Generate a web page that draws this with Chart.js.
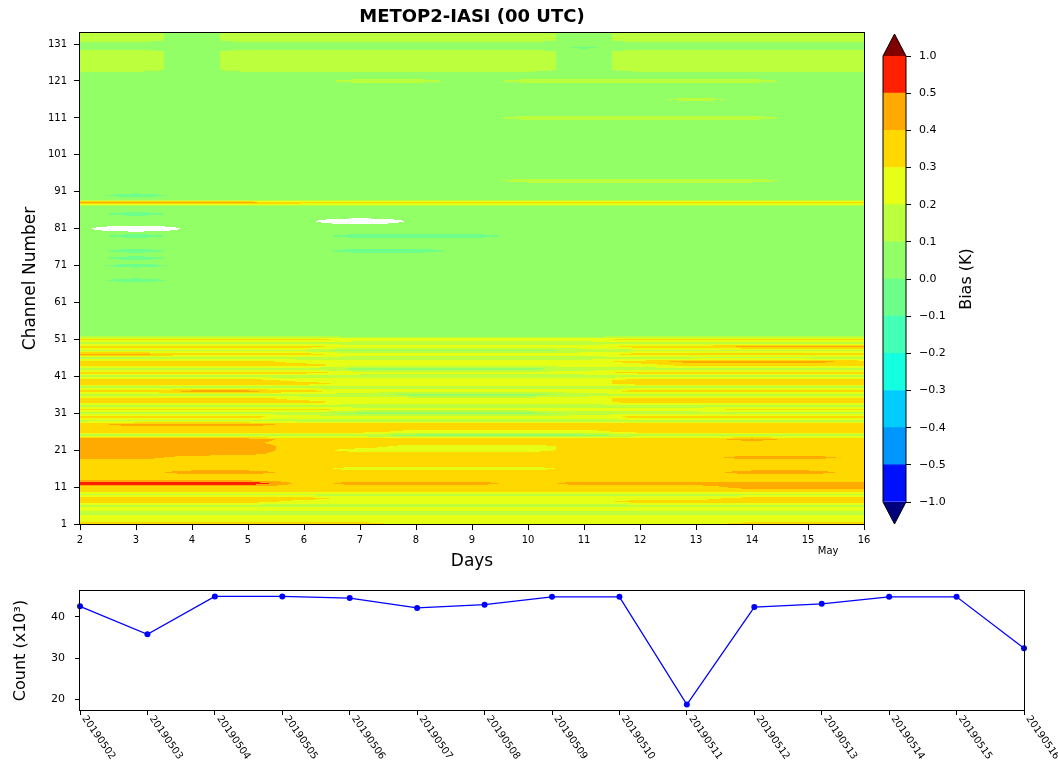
<!DOCTYPE html>
<html>
<head>
<meta charset="utf-8">
<title>METOP2-IASI (00 UTC)</title>
<script src="https://cdn.jsdelivr.net/npm/chart.js@4.4.1/dist/chart.umd.min.js"></script>
<style>
  html, body { margin: 0; padding: 0; background: #fff; }
  #page { position: relative; width: 1058px; height: 765px; overflow: hidden; }
  canvas { position: absolute; }
  #heat { left: 0; top: 0; }
  #cbar { left: 860px; top: 0; }
  #count { left: 0; top: 580px; }
</style>
</head>
<body>
<div id="page">
  <canvas id="heat" width="876" height="580"></canvas>
  <canvas id="cbar" width="198" height="560"></canvas>
  <canvas id="count" width="1058" height="185"></canvas>
</div>
<script>
// days of May on the x axis of the bias plot
var biasDays = [2, 3, 4, 5, 6, 7, 8, 9, 10, 11, 12, 13, 14, 15, 16];
var channelMin = 1;
var channelTicks = [1, 11, 21, 31, 41, 51, 61, 71, 81, 91, 101, 111, 121, 131];

// contour levels of the colour bar (K)
var biasLevels = [-1.0, -0.5, -0.4, -0.3, -0.2, -0.1, 0.0, 0.1, 0.2, 0.3, 0.4, 0.5, 1.0];
var levelColors = ['#0010ff', '#0096ff', '#00ccff', '#14ffe0', '#44ffb6', '#6cff8a',
                   '#92ff66', '#bbff3d', '#e6ff14', '#ffd800', '#ffaa00', '#ff2000'];
var underColor = '#00007f';
var overColor = '#800000';

// bias, one letter per day (2..16), one row per channel
var biasCodes = { W: null, n: -0.02, m: -0.06, g: 0.05, l: 0.15, y: 0.25, d: 0.35, p: 0.42, o: 0.45, r: 0.6 };
var biasRows = [
  'ddddddyyyyyyddd', // 1
  'yyyyyyyyyyyyyyy',
  'yyyyyyyyyyyyyyy',
  'lllllllllllllll',
  'yyyyyyyyyyyyyyy',
  'lllllllllllllll',
  'ddddyyyyyyddddd',
  'dddddyyyyyyyddd',
  'lllllllllllllll',
  'ddddddddddddddd',
  'ddddddddddddooo', // 11
  'rrrrdooodoooooo',
  'ddddddddddddddd',
  'ddddddddddddddd',
  'ddooddddddddood',
  'dddddyyyydddddd',
  'ddddddddddddddd',
  'ddddddddddddddd',
  'ooddddddddddood',
  'ooopddddddddddd',
  'oooodyyyydddddd', // 21
  'ooooddyyydddddd',
  'ooopddddddddddd',
  'ooooddddddddodd',
  'llllllgggglllll',
  'ddddddyyyyddddd',
  'ddddddddddddddd',
  'doooddddddddddd',
  'lllllllllllllll',
  'ddddyyyyyyddddd',
  'lllllggggllllll', // 31
  'dddddyyyyyyyddd',
  'lllllllllllllll',
  'dddddyyyyyddddd',
  'ddddyyyyyyddddd',
  'llllllgggllllll',
  'ddoodyyyyyddddd',
  'lllllllllllllll',
  'dddddyyyyyddddd',
  'ddddyyyyyyddddd',
  'lllllllllllllll', // 41
  'dddddyyyyyddddd',
  'lllllggggllllll',
  'dddddyyyyyydddd',
  'ddddyyyyyydoood',
  'lllllllllllllll',
  'oodddyyyyyddddd',
  'lllllggggllllll',
  'dddddyyyyyddooo',
  'lllllllllllllll',
  'dddddyyyyyddddd', // 51
  'ggggggggggggggg',
  'ggggggggggggggg',
  'ggggggggggggggg',
  'ggggggggggggggg',
  'ggggggggggggggg',
  'ggggggggggggggg',
  'ggggggggggggggg',
  'ggggggggggggggg',
  'ggggggggggggggg',
  'ggggggggggggggg', // 61
  'ggggggggggggggg',
  'ggggggggggggggg',
  'ggggggggggggggg',
  'ggggggggggggggg',
  'ggggggggggggggg',
  'gmggggggggggggg',
  'ggggggggggggggg',
  'ggggggggggggggg',
  'ggggggggggggggg',
  'gmggggggggggggg', // 71
  'ggggggggggggggg',
  'gmggggggggggggg',
  'ggggggggggggggg',
  'gmgggmmgggggggg',
  'ggggggggggggggg',
  'ggggggggggggggg',
  'ggggggggggggggg',
  'gmgggmmmggggggg',
  'ggggggggggggggg',
  'gWggggggggggggg', // 81
  'ggggggggggggggg',
  'gggggWggggggggg',
  'ggggggggggggggg',
  'gmggggggggggggg',
  'ggggggggggggggg',
  'ggggggggggggggg',
  'ooooddddddddddd',
  'ggggggggggggggg',
  'gmggggggggggggg',
  'ggggggggggggggg', // 91
  'ggggggggggggggg',
  'ggggggggggggggg',
  'gggggggglllllgg',
  'ggggggggggggggg',
  'ggggggggggggggg',
  'ggggggggggggggg',
  'ggggggggggggggg',
  'ggggggggggggggg',
  'ggggggggggggggg',
  'ggggggggggggggg', // 101
  'ggggggggggggggg',
  'ggggggggggggggg',
  'ggggggggggggggg',
  'ggggggggggggggg',
  'ggggggggggggggg',
  'ggggggggggggggg',
  'ggggggggggggggg',
  'ggggggggggggggg',
  'ggggggggggggggg',
  'gggggggglllllgg', // 111
  'ggggggggggggggg',
  'ggggggggggggggg',
  'ggggggggggggggg',
  'ggggggggggggggg',
  'ggggggggggglggg',
  'ggggggggggggggg',
  'ggggggggggggggg',
  'ggggggggggggggg',
  'ggggggggggggggg',
  'gggggllglllllgg', // 121
  'ggggggggggggggg',
  'ggggggggggggggg',
  'llgllllllglllll',
  'llgllllllglllll',
  'llgllllllglllll',
  'llgllllllglllll',
  'llgllllllglllll',
  'llgllllllglllll',
  'gggggggggnggggg',
  'ggggggggggggggg', // 131
  'llgllllllglllll',
  'llgllllllglllll',
  'llgllllllglllll'
];

// observation count per day (x10^3)
var countDates = ['20190502', '20190503', '20190504', '20190505', '20190506', '20190507', '20190508',
                  '20190509', '20190510', '20190511', '20190512', '20190513', '20190514', '20190515', '20190516'];
var countValues = [42.6, 35.8, 45.0, 45.0, 44.6, 42.2, 43.0, 44.9, 44.9, 18.7, 42.4, 43.2, 44.9, 44.9, 32.4];
var countTicks = [20, 30, 40];

Chart.defaults.font.family = "'DejaVu Sans', sans-serif";
Chart.defaults.color = '#000';

var biasGrid = biasRows.map(function(row) {
  return row.split('').map(function(c) { return biasCodes[c]; });
});
var channelMax = channelMin + biasGrid.length - 1;

function hexToRgb(h) {
  return [parseInt(h.substr(1, 2), 16), parseInt(h.substr(3, 2), 16), parseInt(h.substr(5, 2), 16)];
}
var levelRgb = levelColors.map(hexToRgb);
var underRgb = hexToRgb(underColor);
var overRgb = hexToRgb(overColor);

function colorFor(v) {
  if (v < biasLevels[0]) return underRgb;
  for (var k = 0; k < biasLevels.length - 1; k++) {
    if (v < biasLevels[k + 1]) return levelRgb[k];
  }
  return overRgb;
}

// bilinear value between grid points, null near missing data
function sampleBias(day, ch) {
  var nx = biasDays.length, ny = biasGrid.length;
  var fi = Math.min(Math.max(day - biasDays[0], 0), nx - 1);
  var fj = Math.min(Math.max(ch - channelMin, 0), ny - 1);
  var i0 = Math.min(Math.floor(fi), nx - 2), j0 = Math.min(Math.floor(fj), ny - 2);
  var tx = fi - i0, ty = fj - j0;
  var pts = [[j0, i0, (1 - tx) * (1 - ty)], [j0, i0 + 1, tx * (1 - ty)],
             [j0 + 1, i0, (1 - tx) * ty], [j0 + 1, i0 + 1, tx * ty]];
  var sum = 0, wsum = 0, miss = 0;
  for (var k = 0; k < 4; k++) {
    var v = biasGrid[pts[k][0]][pts[k][1]];
    if (v === null) miss += pts[k][2];
    else { sum += v * pts[k][2]; wsum += pts[k][2]; }
  }
  if (miss > 0.2 || wsum === 0) return null;
  return sum / wsum;
}

var heatmapPlugin = {
  id: 'heatmap',
  beforeDatasetsDraw: function(chart) {
    var ctx = chart.ctx, a = chart.chartArea;
    var xs = chart.scales.x, ys = chart.scales.y;
    var w = Math.round(a.right - a.left), h = Math.round(a.bottom - a.top);
    var img = ctx.createImageData(w, h);
    var days = [];
    for (var px = 0; px < w; px++) days.push(xs.getValueForPixel(a.left + px + 0.5));
    for (var py = 0; py < h; py++) {
      var ch = ys.getValueForPixel(a.top + py + 0.5);
      for (px = 0; px < w; px++) {
        var v = sampleBias(days[px], ch);
        var c = v === null ? [255, 255, 255] : colorFor(v);
        var o = (py * w + px) * 4;
        img.data[o] = c[0]; img.data[o + 1] = c[1]; img.data[o + 2] = c[2]; img.data[o + 3] = 255;
      }
    }
    ctx.putImageData(img, Math.round(a.left), Math.round(a.top));
  },
  afterDraw: function(chart) {
    var ctx = chart.ctx, a = chart.chartArea;
    ctx.save();
    ctx.strokeStyle = '#000';
    ctx.lineWidth = 1;
    ctx.strokeRect(a.left - 0.5, a.top - 0.5, a.right - a.left + 1, a.bottom - a.top + 1);
    ctx.fillStyle = '#000';
    ctx.textAlign = 'center';
    ctx.textBaseline = 'middle';
    ctx.font = "bold 18px 'DejaVu Sans'";
    ctx.fillText('METOP2-IASI (00 UTC)', (a.left + a.right) / 2, 17);
    ctx.font = "10px 'DejaVu Sans'";
    ctx.fillText('May', chart.scales.x.getPixelForValue(15.36), a.bottom + 27);
    ctx.restore();
  }
};

new Chart(document.getElementById('heat'), {
  type: 'scatter',
  data: { datasets: [{ data: [] }] },
  options: {
    responsive: false,
    animation: false,
    events: [],
    layout: { padding: { top: 33, right: 12, left: 0, bottom: 0 } },
    plugins: { legend: { display: false }, tooltip: { enabled: false } },
    scales: {
      x: {
        type: 'linear',
        min: biasDays[0],
        max: biasDays[biasDays.length - 1],
        ticks: { stepSize: 1, font: { size: 10 }, padding: 4 },
        grid: { drawOnChartArea: false, tickLength: 6, color: '#000' },
        border: { display: false },
        title: { display: true, text: 'Days', font: { size: 17 }, padding: { top: 0, bottom: 8 } },
        afterFit: function(s) { s.height = 56; s.paddingLeft = 0; s.paddingRight = 0; }
      },
      y: {
        type: 'linear',
        min: channelMin,
        max: channelMax,
        afterBuildTicks: function(s) { s.ticks = channelTicks.map(function(v) { return { value: v }; }); },
        ticks: { font: { size: 10 }, padding: 7 },
        grid: { drawOnChartArea: false, tickLength: 6, color: '#000' },
        border: { display: false },
        title: { display: true, text: 'Channel Number', font: { size: 17 }, padding: { top: 20, bottom: 0 } },
        afterFit: function(s) { s.width = 80; s.paddingTop = 0; s.paddingBottom = 0; }
      }
    }
  },
  plugins: [heatmapPlugin]
});

function levelLabel(v) {
  return v.toFixed(1).replace('-', '\u2212');
}

var colorbarPlugin = {
  id: 'colorbar',
  afterDraw: function(chart) {
    var ctx = chart.ctx, a = chart.chartArea;
    var cx = (a.left + a.right) / 2;
    var up = a.top - 22, down = a.bottom + 22;
    ctx.save();
    ctx.fillStyle = overColor;
    ctx.beginPath(); ctx.moveTo(a.left, a.top); ctx.lineTo(cx, up); ctx.lineTo(a.right, a.top); ctx.closePath(); ctx.fill();
    ctx.fillStyle = underColor;
    ctx.beginPath(); ctx.moveTo(a.left, a.bottom); ctx.lineTo(cx, down); ctx.lineTo(a.right, a.bottom); ctx.closePath(); ctx.fill();
    ctx.strokeStyle = '#000';
    ctx.lineWidth = 1;
    ctx.beginPath();
    ctx.moveTo(cx, up); ctx.lineTo(a.right, a.top); ctx.lineTo(a.right, a.bottom); ctx.lineTo(cx, down);
    ctx.lineTo(a.left, a.bottom); ctx.lineTo(a.left, a.top); ctx.closePath();
    ctx.stroke();
    ctx.fillStyle = '#000';
    ctx.font = "16px 'DejaVu Sans'";
    ctx.textAlign = 'center';
    ctx.textBaseline = 'middle';
    ctx.translate(a.right + 61, (a.top + a.bottom) / 2);
    ctx.rotate(-Math.PI / 2);
    ctx.fillText('Bias (K)', 0, 0);
    ctx.restore();
  }
};

new Chart(document.getElementById('cbar'), {
  type: 'bar',
  data: {
    labels: [''],
    datasets: levelColors.map(function(c) {
      return { data: [1], backgroundColor: c, borderWidth: 0, barPercentage: 1, categoryPercentage: 1 };
    })
  },
  options: {
    responsive: false,
    animation: false,
    events: [],
    layout: { padding: { left: 23, top: 56, bottom: 58, right: 0 } },
    plugins: { legend: { display: false }, tooltip: { enabled: false } },
    scales: {
      x: { display: false, stacked: true },
      y: {
        position: 'right',
        stacked: true,
        min: 0,
        max: levelColors.length,
        ticks: { stepSize: 1, font: { size: 11 }, padding: 8,
                 callback: function(v) { return levelLabel(biasLevels[v]); } },
        grid: { drawOnChartArea: false, tickLength: 5, color: '#000' },
        border: { display: false },
        afterFit: function(s) { s.width = 152; s.paddingTop = 0; s.paddingBottom = 0; }
      }
    }
  },
  plugins: [colorbarPlugin]
});

var countMin = Math.min.apply(null, countValues), countMax = Math.max.apply(null, countValues);
var countPad = (countMax - countMin) * 0.05;

var countPlugin = {
  id: 'countFrame',
  afterDraw: function(chart) {
    var ctx = chart.ctx, a = chart.chartArea, xs = chart.scales.x;
    ctx.save();
    ctx.strokeStyle = '#000';
    ctx.lineWidth = 1;
    ctx.strokeRect(a.left - 0.5, a.top - 0.5, a.right - a.left + 1, a.bottom - a.top + 1);
    ctx.fillStyle = '#000';
    ctx.font = "10px 'DejaVu Sans'";
    ctx.textAlign = 'left';
    ctx.textBaseline = 'top';
    countDates.forEach(function(d, i) {
      ctx.save();
      ctx.translate(xs.getPixelForValue(i) + 8, a.bottom + 4);
      ctx.rotate(55 * Math.PI / 180);
      ctx.fillText(d, 0, 0);
      ctx.restore();
    });
    ctx.restore();
  }
};

new Chart(document.getElementById('count'), {
  type: 'line',
  data: {
    labels: countDates,
    datasets: [{
      data: countValues,
      borderColor: '#0000ff',
      backgroundColor: '#0000ff',
      borderWidth: 1.3,
      pointRadius: 3,
      pointBorderWidth: 0,
      tension: 0
    }]
  },
  options: {
    responsive: false,
    animation: false,
    events: [],
    layout: { padding: { top: 11, right: 34, left: 0, bottom: 0 } },
    plugins: { legend: { display: false }, tooltip: { enabled: false } },
    scales: {
      x: {
        type: 'category',
        offset: false,
        ticks: { display: false },
        grid: { drawOnChartArea: false, tickLength: 5, color: '#000' },
        border: { display: false },
        afterFit: function(s) { s.height = 55; s.paddingLeft = 0; s.paddingRight = 0; }
      },
      y: {
        min: countMin - countPad,
        max: countMax + countPad,
        afterBuildTicks: function(s) { s.ticks = countTicks.map(function(v) { return { value: v }; }); },
        ticks: { font: { size: 11 }, padding: 10 },
        grid: { drawOnChartArea: false, tickLength: 5, color: '#000' },
        border: { display: false },
        title: { display: true, text: 'Count (x10\u00b3)', font: { size: 16 }, padding: { top: 11, bottom: 0 } },
        afterFit: function(s) { s.width = 80; s.paddingTop = 0; s.paddingBottom = 0; }
      }
    }
  },
  plugins: [countPlugin]
});
</script>
</body>
</html>
